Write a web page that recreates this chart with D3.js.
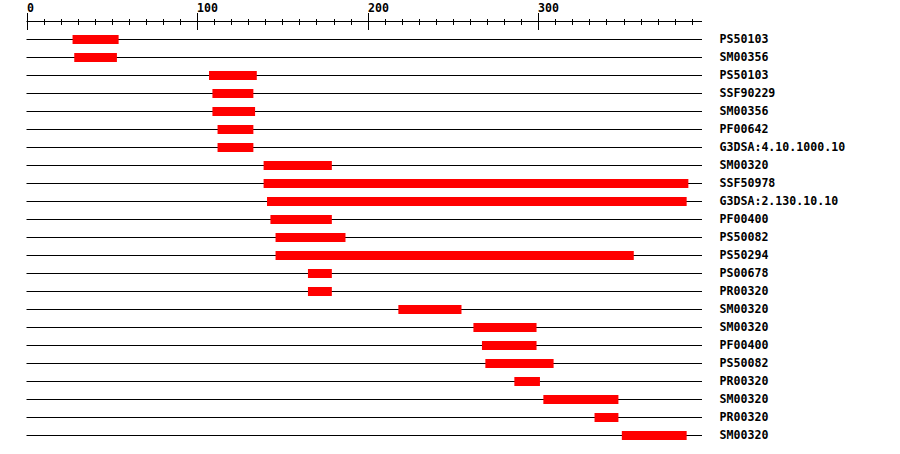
<!DOCTYPE html>
<html>
<head>
<meta charset="utf-8">
<script src="https://cdn.jsdelivr.net/npm/d3@7/dist/d3.min.js"></script>
<style>
  html, body { margin: 0; padding: 0; background: #fff; }
  svg { display: block; }
</style>
</head>
<body>
<div id="chart"></div>
<script>
// Data
const labels = ["PS50103","SM00356","PS50103","SSF90229","SM00356","PF00642","G3DSA:4.10.1000.10",
  "SM00320","SSF50978","G3DSA:2.130.10.10","PF00400","PS50082","PS50294","PS00678","PR00320",
  "SM00320","SM00320","PF00400","PS50082","PR00320","SM00320","PR00320","SM00320"];
const starts = [27,28,107,109,109,112,112,139,139,141,143,146,146,165,165,218,262,267,269,286,303,333,349];
const ends   = [54,53,135,133,134,133,133,179,388,387,179,187,356,179,179,255,299,299,309,301,347,347,387];
const seqLength = 396;
const majorTicks = [0,100,200,300];
const minorStep = 10;

const W = 900, H = 454;
const svg = d3.select("#chart").append("svg").attr("width", W).attr("height", H);

const x = d3.scaleLinear().domain([0, seqLength]).range([26.5, 702]);
const y = d3.scaleLinear().domain([0, labels.length - 1]).range([39, 39 + 18 * (labels.length - 1)]);

// axis
const axisY = 21;
svg.append("line").attr("x1", x(0)).attr("x2", x(seqLength))
  .attr("y1", axisY + 0.5).attr("y2", axisY + 0.5)
  .attr("stroke", "#000").attr("stroke-width", 1);

const minorTicks = d3.range(0, seqLength, minorStep).filter(v => !majorTicks.includes(v));
svg.selectAll("line.minor").data(minorTicks).enter().append("line")
  .attr("class", "minor")
  .attr("x1", d => Math.round(x(d)) + 0.5).attr("x2", d => Math.round(x(d)) + 0.5)
  .attr("y1", 19).attr("y2", 25)
  .attr("stroke", "#000").attr("stroke-width", 1);

svg.selectAll("line.major").data(majorTicks).enter().append("line")
  .attr("class", "major")
  .attr("x1", d => Math.round(x(d)) + 0.5).attr("x2", d => Math.round(x(d)) + 0.5)
  .attr("y1", 13).attr("y2", 30)
  .attr("stroke", "#000").attr("stroke-width", 1);

svg.selectAll("text.tick").data(majorTicks).enter().append("text")
  .attr("class", "tick")
  .attr("x", d => Math.round(x(d)))
  .attr("y", 12)
  .attr("font-family", "DejaVu Sans Mono, monospace")
  .attr("font-weight", "bold")
  .attr("font-size", "11.6px")
  .attr("fill", "#000")
  .text(d => d);

// rows
const rows = svg.selectAll("g.row").data(labels.map((l, i) => ({l, s: starts[i], e: ends[i], i})))
  .enter().append("g").attr("class", "row");

rows.append("line")
  .attr("x1", x(0)).attr("x2", x(seqLength))
  .attr("y1", d => y(d.i) + 0.5).attr("y2", d => y(d.i) + 0.5)
  .attr("stroke", "#000").attr("stroke-width", 1);

rows.append("rect")
  .attr("x", d => x(d.s))
  .attr("width", d => x(d.e) - x(d.s))
  .attr("y", d => y(d.i) - 4)
  .attr("height", 9)
  .attr("fill", "#ff0000");

rows.append("text")
  .attr("x", 719.5)
  .attr("y", d => y(d.i) + 4)
  .attr("font-family", "DejaVu Sans Mono, monospace")
  .attr("font-weight", "bold")
  .attr("font-size", "11.6px")
  .attr("fill", "#000")
  .text(d => d.l);
</script>
</body>
</html>
